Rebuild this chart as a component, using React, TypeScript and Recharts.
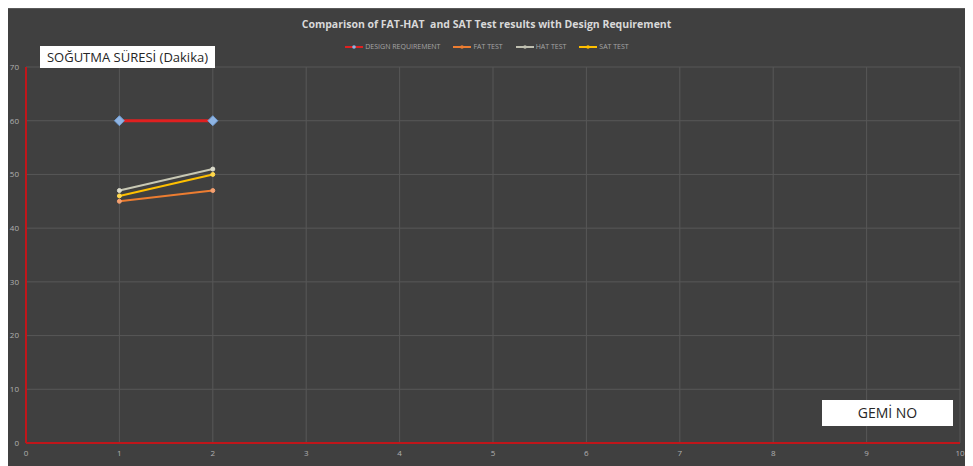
import React from "react";
import { LineChart, Line, XAxis, YAxis, CartesianGrid } from "recharts";

const gemiNo = [1, 2];
const designRequirement = [60, 60];
const fatTest = [45, 47];
const hatTest = [47, 51];
const satTest = [46, 50];
const xTicks = [0, 1, 2, 3, 4, 5, 6, 7, 8, 9, 10];
const yTicks = [0, 10, 20, 30, 40, 50, 60, 70];

const data = gemiNo.map((g, i) => ({
  x: g,
  design: designRequirement[i],
  fat: fatTest[i],
  hat: hatTest[i],
  sat: satTest[i],
}));

const Diamond = (props: any) => {
  const { cx, cy } = props;
  if (cx == null || cy == null) return null;
  const r = 5;
  return (
    <polygon
      points={`${cx},${cy - r} ${cx + r},${cy} ${cx},${cy + r} ${cx - r},${cy}`}
      fill="#8eb4e3"
      stroke="#6f9bd1"
      strokeWidth={1}
    />
  );
};

const SmallDot = (color: string) => (props: any) => {
  const { cx, cy } = props;
  if (cx == null || cy == null) return null;
  return <circle cx={cx} cy={cy} r={2} fill={color} stroke={color} />;
};

const legendItems = [
  { name: "DESIGN REQUIREMENT", color: "#e02020", marker: "#8eb4e3" },
  { name: "FAT TEST", color: "#ed7d31", marker: "#ed7d31" },
  { name: "HAT TEST", color: "#bfbfb0", marker: "#bfbfb0" },
  { name: "SAT TEST", color: "#ffc000", marker: "#ffc000" },
];

const LegendContent = () => (
  <div
    style={{
      display: "flex",
      justifyContent: "center",
      gap: 12,
      fontFamily: "'Open Sans', sans-serif",
      fontSize: 7,
      color: "#a6a6a6",
    }}
  >
    {legendItems.map((it) => (
      <div key={it.name} style={{ display: "flex", alignItems: "center" }}>
        <svg width={20} height={8}>
          <line x1={1} y1={4} x2={19} y2={4} stroke={it.color} strokeWidth={2} />
          <circle cx={10} cy={4} r={1.8} fill={it.marker} />
        </svg>
        <span style={{ marginLeft: 1 }}>{it.name}</span>
      </div>
    ))}
  </div>
);

export default function App() {
  return (
    <div
      style={{
        position: "relative",
        width: 973,
        height: 466,
        margin: "-8px 0 0 -8px",
        background: "#f2f2f2",
        overflow: "hidden",
      }}
    >
      <div
        style={{
          position: "absolute",
          left: 5,
          top: 8,
          width: 968,
          height: 458,
          background: "#404040",
          borderLeft: "1px solid #595959",
          borderTop: "1px solid #595959",
        }}
      />
      <div
        style={{
          position: "absolute",
          left: 0,
          top: 17,
          width: 973,
          textAlign: "center",
          fontFamily: "'Open Sans', sans-serif",
          fontWeight: 700,
          fontSize: 10.5,
          color: "#d9d9d9",
        }}
      >
        Comparison of FAT-HAT&nbsp; and SAT Test results with Design Requirement
      </div>
      <div style={{ position: "absolute", left: 0, top: 42, width: 973 }}>
        <LegendContent />
      </div>
      <div style={{ position: "absolute", left: 0, top: 0 }}>
        <LineChart
          width={973}
          height={466}
          data={data}
          margin={{ top: 67, right: 13, bottom: 0, left: 0 }}
        >
          <CartesianGrid stroke="#575757" strokeWidth={1} />
          <XAxis
            dataKey="x"
            type="number"
            domain={[0, 10]}
            ticks={xTicks}
            interval={0}
            axisLine={{ stroke: "#c0161a", strokeWidth: 2 }}
            tickLine={false}
            tick={{ fontSize: 8, fill: "#b0b0b0", fontFamily: "'Open Sans', sans-serif" }}
            tickMargin={1}
            height={23}
          />
          <YAxis
            type="number"
            domain={[0, 70]}
            ticks={yTicks}
            interval={0}
            axisLine={{ stroke: "#c0161a", strokeWidth: 2 }}
            tickLine={false}
            tick={{ fontSize: 8, fill: "#b0b0b0", fontFamily: "'Open Sans', sans-serif" }}
            tickMargin={1}
            width={26}
          />
          <Line
            dataKey="design"
            name="DESIGN REQUIREMENT"
            stroke="#e02020"
            strokeWidth={3}
            dot={<Diamond />}
            isAnimationActive={false}
          />
          <Line
            dataKey="fat"
            name="FAT TEST"
            stroke="#ed7d31"
            strokeWidth={2}
            dot={SmallDot("#f4a070")}
            isAnimationActive={false}
          />
          <Line
            dataKey="hat"
            name="HAT TEST"
            stroke="#c8c8b4"
            strokeWidth={2}
            dot={SmallDot("#dcdccc")}
            isAnimationActive={false}
          />
          <Line
            dataKey="sat"
            name="SAT TEST"
            stroke="#ffc000"
            strokeWidth={2}
            dot={SmallDot("#ffd84d")}
            isAnimationActive={false}
          />
        </LineChart>
      </div>
      <div
        style={{
          position: "absolute",
          left: 40,
          top: 46,
          width: 175,
          height: 22,
          background: "#ffffff",
          fontFamily: "'Open Sans', sans-serif",
          fontSize: 13,
          color: "#262626",
          lineHeight: "22px",
          textAlign: "center",
          whiteSpace: "nowrap",
        }}
      >
        SOĞUTMA SÜRESİ (Dakika)
      </div>
      <div
        style={{
          position: "absolute",
          left: 822,
          top: 400,
          width: 131,
          height: 26,
          background: "#ffffff",
          fontFamily: "'Open Sans', sans-serif",
          fontSize: 14,
          color: "#262626",
          lineHeight: "26px",
          textAlign: "center",
          whiteSpace: "nowrap",
        }}
      >
        GEMİ NO
      </div>
    </div>
  );
}
